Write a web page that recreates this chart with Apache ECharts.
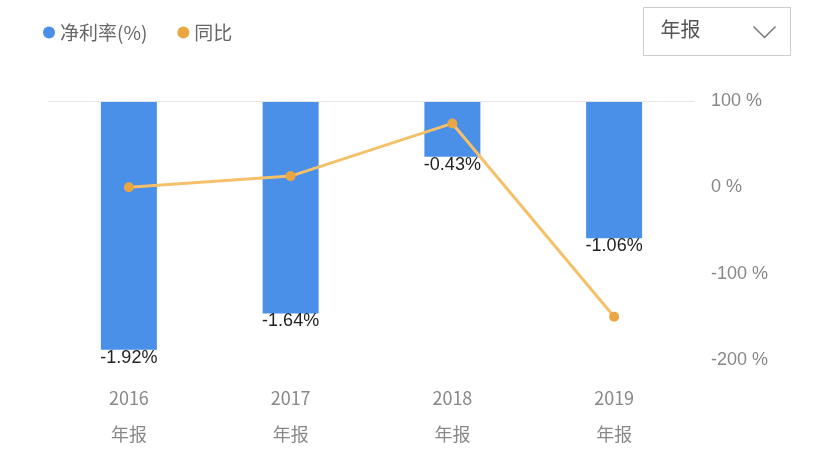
<!DOCTYPE html>
<html lang="zh">
<head>
<meta charset="UTF-8">
<title>净利率</title>
<script src="https://cdn.jsdelivr.net/npm/echarts@6/dist/echarts.min.js"></script>
</head>
<body style="margin:0">
<div id="main" style="width:828px;height:453px"></div>
<script>
  const years = ['2016\n年报', '2017\n年报', '2018\n年报', '2019\n年报'];
  const netMargin = [-1.92, -1.64, -0.43, -1.06];
  const yoy = [0, 13, 74, -150];
  const rightTicks = [-200, -100, 0, 100];

  var chart = echarts.init(document.getElementById('main'));
  var option = {
    animation: false,
    legend: {
      left: 38, top: 18, itemWidth: 12, itemHeight: 12, itemGap: 30,
      icon: 'circle',
      textStyle: { fontSize: 19, color: '#666', fontFamily: 'Noto Sans CJK SC' },
      data: ['净利率(%)', '同比']
    },
    graphic: [{
      type: 'group', left: 643, top: 7,
      children: [
        { type: 'rect', shape: { width: 147, height: 48 }, style: { fill: '#fff', stroke: '#ccc', lineWidth: 1 } },
        { type: 'text', left: 17, top: 12, style: { text: '年报', fontSize: 20, fill: '#555', fontFamily: 'Noto Sans CJK SC' } },
        { type: 'polyline', shape: { points: [[110, 19], [121, 30], [132, 19]] }, style: { stroke: '#777', lineWidth: 1.5, fill: null } }
      ]
    }],
    grid: { left: 48, right: 133, top: 101, bottom: 93 },
    xAxis: {
      type: 'category', data: years,
      axisLine: { show: false }, axisTick: { show: false },
      axisLabel: { color: '#888', fontSize: 18, lineHeight: 36, margin: 20, fontFamily: 'Noto Sans CJK SC' }
    },
    yAxis: [{
      type: 'value', min: -2, max: 0, show: false
    }, {
      type: 'value', min: rightTicks[0], max: rightTicks[rightTicks.length - 1], interval: 100,
      position: 'right',
      axisLine: { show: false }, axisTick: { show: false },
      splitLine: { show: false },
      axisLabel: { formatter: '{value} %', color: '#888', fontSize: 18, margin: 16 }
    }],
    series: [{
      name: '净利率(%)', type: 'bar', data: netMargin, barWidth: 56,
      itemStyle: { color: '#4a8fe8' },
      label: { show: true, position: 'insideBottom', offset: [0, 22], formatter: '{c}%', color: '#222', fontSize: 18 },
      markLine: {
        silent: true, symbol: 'none', label: { show: false },
        lineStyle: { color: '#e6e6e6', type: 'solid', width: 1 },
        data: [{ yAxis: 0 }]
      }
    }, {
      name: '同比', type: 'line', yAxisIndex: 1, data: yoy,
      symbol: 'circle', symbolSize: 10,
      itemStyle: { color: '#e9a642' },
      lineStyle: { color: '#f5c06a', width: 3 }
    }]
  };
  chart.setOption(option);
</script>
</body>
</html>
